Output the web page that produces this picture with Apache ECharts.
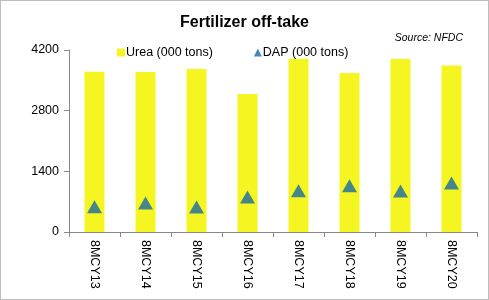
<!DOCTYPE html>
<html>
<head>
<meta charset="utf-8">
<script src="https://cdn.jsdelivr.net/npm/echarts@6/dist/echarts.min.js"></script>
<style>
  html, body { margin: 0; padding: 0; background: #fff; }
  #chart { width: 487px; height: 298px; border: 1px solid #bdbdbd; }
</style>
</head>
<body>
<div id="chart"></div>
<script>
// data
var categories = ["8MCY13", "8MCY14", "8MCY15", "8MCY16", "8MCY17", "8MCY18", "8MCY19", "8MCY20"];
var ureaValues = [3700, 3690, 3760, 3185, 4000, 3670, 3990, 3840];
var dapValues = [580, 670, 575, 810, 950, 1065, 945, 1130];

var chart = echarts.init(document.getElementById("chart"));

var font = "Liberation Sans, Arial, sans-serif";

var options = {
  animation: false,
  title: [
    {
      text: "Fertilizer off-take",
      left: "center",
      top: 9,
      textStyle: { fontFamily: font, fontSize: 16, fontWeight: "bold", color: "#000" }
    },
    {
      text: "Source: NFDC",
      right: 20,
      top: 27,
      textStyle: { fontFamily: font, fontSize: 10.5, fontStyle: "italic", fontWeight: "normal", color: "#000" }
    }
  ],
  legend: {
    top: 40,
    left: 111,
    itemGap: 41,
    itemWidth: 8,
    itemHeight: 8,
    textStyle: { fontFamily: font, fontSize: 12.5, color: "#000", padding: [0, 0, 0, -4] },
    data: [
      { name: "Urea (000 tons)", icon: "rect" },
      { name: "DAP (000 tons)", icon: "triangle" }
    ]
  },
  grid: { left: 68, right: 11, top: 49, bottom: 67 },
  xAxis: {
    type: "category",
    data: categories,
    axisLine: { lineStyle: { color: "#888", width: 1 } },
    axisTick: { show: true, length: 5, lineStyle: { color: "#888" } },
    axisLabel: {
      rotate: -90,
      margin: 8,
      fontFamily: font,
      fontSize: 12.5,
      color: "#000"
    }
  },
  yAxis: {
    type: "value",
    min: 0,
    max: 4200,
    interval: 1400,
    axisLine: { show: true, lineStyle: { color: "#888", width: 1 } },
    axisTick: { show: true, inside: false, length: 5, lineStyle: { color: "#888" } },
    splitLine: { show: false },
    axisLabel: {
      margin: 10,
      fontFamily: font,
      fontSize: 12.5,
      color: "#000",
      formatter: function (v) { return String(v); }
    }
  },
  series: [
    {
      name: "Urea (000 tons)",
      type: "bar",
      barWidth: 20,
      itemStyle: { color: "#f5f521" },
      data: ureaValues
    },
    {
      name: "DAP (000 tons)",
      type: "scatter",
      symbol: "triangle",
      symbolSize: [15, 13],
      itemStyle: { color: "#1c6aa2" },
      data: dapValues
    }
  ]
};

chart.setOption(options);
</script>
</body>
</html>
